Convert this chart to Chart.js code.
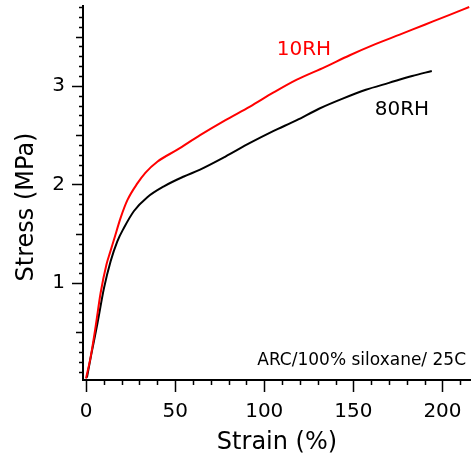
<!DOCTYPE html>
<html>
<head>
<meta charset="utf-8">
<script src="https://cdn.jsdelivr.net/npm/chart.js@4.4.0/dist/chart.umd.min.js"></script>
<style>
  html, body { margin: 0; padding: 0; background: #fff; }
  #wrap { width: 471px; height: 459px; }
</style>
</head>
<body>
<div id="wrap"><canvas id="chart"></canvas></div>
<script>
// 10RH curve (red)
const strainRed = [0, 2.6, 5.4, 8.2, 11.5, 13.5, 15.7, 19.4, 23.2, 28.8, 33.4, 40, 51, 64, 78, 92, 105, 118, 134, 148, 162, 176, 190, 204, 215];
const stressRed = [0.03, 0.25, 0.56, 0.90, 1.19, 1.31, 1.44, 1.66, 1.84, 2.01, 2.12, 2.23, 2.35, 2.50, 2.65, 2.79, 2.93, 3.06, 3.19, 3.31, 3.42, 3.52, 3.62, 3.72, 3.80];

// 80RH curve (black)
const strainBlack = [0.5, 3, 6.3, 10.1, 13.8, 17.5, 21.3, 26.9, 34.4, 43.7, 54.9, 64, 78, 92, 105, 118, 131, 144, 157, 170, 183, 194];
const stressBlack = [0.04, 0.28, 0.58, 0.95, 1.22, 1.42, 1.56, 1.73, 1.87, 1.98, 2.08, 2.15, 2.28, 2.42, 2.54, 2.65, 2.77, 2.87, 2.96, 3.03, 3.10, 3.15];

const xTickLabels = [0, 50, 100, 150, 200];
const yTickLabels = [1, 2, 3];

const FONT = "'DejaVu Sans', Verdana, sans-serif";

function toPoints(xs, ys) {
    return xs.map((x, i) => ({ x: x, y: ys[i] }));
}

// minor/major tick marks, y title and text notes
const tickMarks = {
    id: 'tickMarks',
    afterDraw(c) {
        const ctx = c.ctx;
        const xs = c.scales.x;
        const ys = c.scales.y;
        ctx.save();
        ctx.strokeStyle = '#000';
        ctx.lineWidth = 1.5;
        ctx.beginPath();
        for (let i = 1; i <= 38; i++) {
            const v = i / 10;
            const py = Math.round(ys.getPixelForValue(v)) + 0.5;
            let len = 4;
            if (i % 10 === 0) len = 11;
            else if (i % 5 === 0) len = 7;
            ctx.moveTo(ys.right - len, py);
            ctx.lineTo(ys.right, py);
        }
        for (let v = 0; v <= 210; v += 10) {
            const px = Math.round(xs.getPixelForValue(v)) + 0.5;
            const len = v % 50 === 0 ? 12 : 5;
            ctx.moveTo(px, xs.top);
            ctx.lineTo(px, xs.top + len);
        }
        ctx.stroke();

        // y axis title
        ctx.save();
        ctx.translate(27, 207);
        ctx.rotate(-Math.PI / 2);
        ctx.font = '24px ' + FONT;
        ctx.fillStyle = '#000';
        ctx.textAlign = 'center';
        ctx.textBaseline = 'middle';
        ctx.fillText('Stress (MPa)', 0, 0);
        ctx.restore();

        // text labels
        ctx.textBaseline = 'middle';
        ctx.fillStyle = '#ff0000';
        ctx.font = '20px ' + FONT;
        ctx.textAlign = 'left';
        ctx.fillText('10RH', xs.getPixelForValue(107), ys.getPixelForValue(3.37));
        ctx.fillStyle = '#000';
        ctx.fillText('80RH', xs.getPixelForValue(162), ys.getPixelForValue(2.76));
        ctx.font = '17px ' + FONT;
        ctx.textAlign = 'right';
        ctx.fillText('ARC/100% siloxane/ 25C', c.chartArea.right - 5, c.chartArea.bottom - 19);
        ctx.restore();
    }
};

chart = new Chart(document.getElementById('chart'), {
    type: 'scatter',
    data: {
        datasets: [
            {
                label: '10RH',
                data: toPoints(strainRed, stressRed),
                showLine: true,
                borderColor: '#ff0000',
                borderWidth: 2,
                pointRadius: 0,
                cubicInterpolationMode: 'monotone'
            },
            {
                label: '80RH',
                data: toPoints(strainBlack, stressBlack),
                showLine: true,
                borderColor: '#000000',
                borderWidth: 2,
                pointRadius: 0,
                cubicInterpolationMode: 'monotone'
            }
        ]
    },
    options: {
        responsive: true,
        maintainAspectRatio: false,
        animation: false,
        layout: { padding: { top: 6, right: 0, left: 0, bottom: 0 } },
        plugins: {
            legend: { display: false },
            tooltip: { enabled: false }
        },
        scales: {
            x: {
                type: 'linear',
                min: -1.7,
                max: 216,
                afterFit: s => { s.height = 79; s.paddingLeft = 0; s.paddingRight = 0; },
                afterBuildTicks: s => { s.ticks = xTickLabels.map(v => ({ value: v })); },
                grid: { display: false, drawTicks: false },
                border: { display: true, color: '#000', width: 2 },
                ticks: {
                    color: '#000',
                    font: { family: FONT, size: 20 },
                    padding: 20,
                    maxRotation: 0
                },
                title: {
                    display: true,
                    text: 'Strain (%)',
                    color: '#000',
                    font: { family: FONT, size: 24 },
                    padding: { top: 0, bottom: 2 }
                }
            },
            y: {
                type: 'linear',
                min: 0.015,
                max: 3.81,
                afterFit: s => { s.width = 83; s.paddingTop = 0; s.paddingBottom = 0; },
                afterBuildTicks: s => { s.ticks = yTickLabels.map(v => ({ value: v })); },
                grid: { display: false, drawTicks: false },
                border: { display: true, color: '#000', width: 2 },
                ticks: {
                    color: '#000',
                    font: { family: FONT, size: 20 },
                    padding: 18
                },
                title: { display: false }
            }
        }
    },
    plugins: [tickMarks]
});
</script>
</body>
</html>
